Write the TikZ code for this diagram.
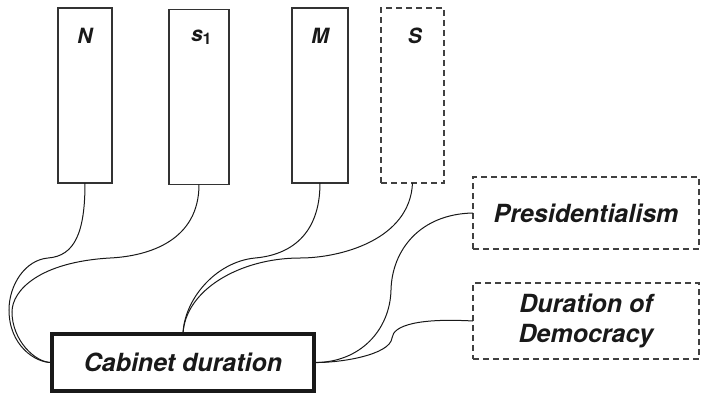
\documentclass[tikz,border=0pt]{standalone}
\usepackage{fontspec}
\setmainfont{TeX Gyre Heros}
\begin{document}
\begin{tikzpicture}[x=1pt,y=-1pt,
  every node/.style={inner sep=0pt,outer sep=0pt},
  varbox/.style={draw=black!80,line width=1.2pt,minimum width=#1,minimum height=175pt},
  dashbox/.style={draw=black!75,line width=1.2pt,dash pattern=on 6pt off 4pt},
  lab/.style={font=\fontsize{21}{24}\selectfont\bfseries\itshape,text=black!90},
  big/.style={font=\fontsize{25}{30}\selectfont\bfseries\itshape,text=black!90,align=center},
  link/.style={draw=black!90,line width=1pt}]
\useasboundingbox (0,0) rectangle (702,394);

% variable columns
\node[varbox=54pt] (N) at (85,95.5) {};
\node[varbox=60pt] (s1) at (199,97) {};
\node[varbox=56pt] (M) at (320,95.5) {};
\node[varbox=63pt,dashbox] (S) at (412.5,95.5) {};
\node[lab] (Nt) at (85,36) {N};
\node[lab,anchor=base west] (s1t) at (191,41) {s\raisebox{-3pt}{\fontsize{16}{16}\selectfont\upshape 1}};
\node[lab] (Mt) at (320,36) {M};
\node[lab] (St) at (415,36) {S};

% outcome and further factors
\node[draw=black!90,line width=4pt,minimum width=262pt,minimum height=57pt,big] (cab) at (183,362.5) {Cabinet duration};
\node[dashbox,minimum width=226pt,minimum height=72pt,big] (pres) at (586,213) {Presidentialism};
\node[dashbox,minimum width=226pt,minimum height=76pt,big] (dem) at (586,321) {Duration of\\Democracy};

% connectors
\draw[link] (N.south) .. controls (85,232) and (75,256) .. (48,258)
  .. controls (25,260) and (9,285) .. (9,310)
  .. controls (9,345) and (35,363) .. (cab.west);
\draw[link] (s1.south) .. controls (199,240) and (150,256) .. (110,258)
  .. controls (40,262) and (12,290) .. (12,312)
  .. controls (12,340) and (35,363) .. (cab.west);
\draw[link] (M.south) .. controls (320,235) and (290,255) .. (255,258)
  .. controls (215,262) and (184,300) .. (cab.north);
\draw[link] (S.south) .. controls (410,240) and (340,258) .. (300,258)
  .. controls (240,258) and (185,290) .. (cab.north);
\draw[link] (pres.west) .. controls (420,214) and (392,250) .. (391,290)
  .. controls (390,330) and (360,363) .. (cab.east);
\draw[link] (dem.west) .. controls (420,318) and (393,325) .. (392,338)
  .. controls (390,355) and (340,363) .. (cab.east);
\end{tikzpicture}
\end{document}
